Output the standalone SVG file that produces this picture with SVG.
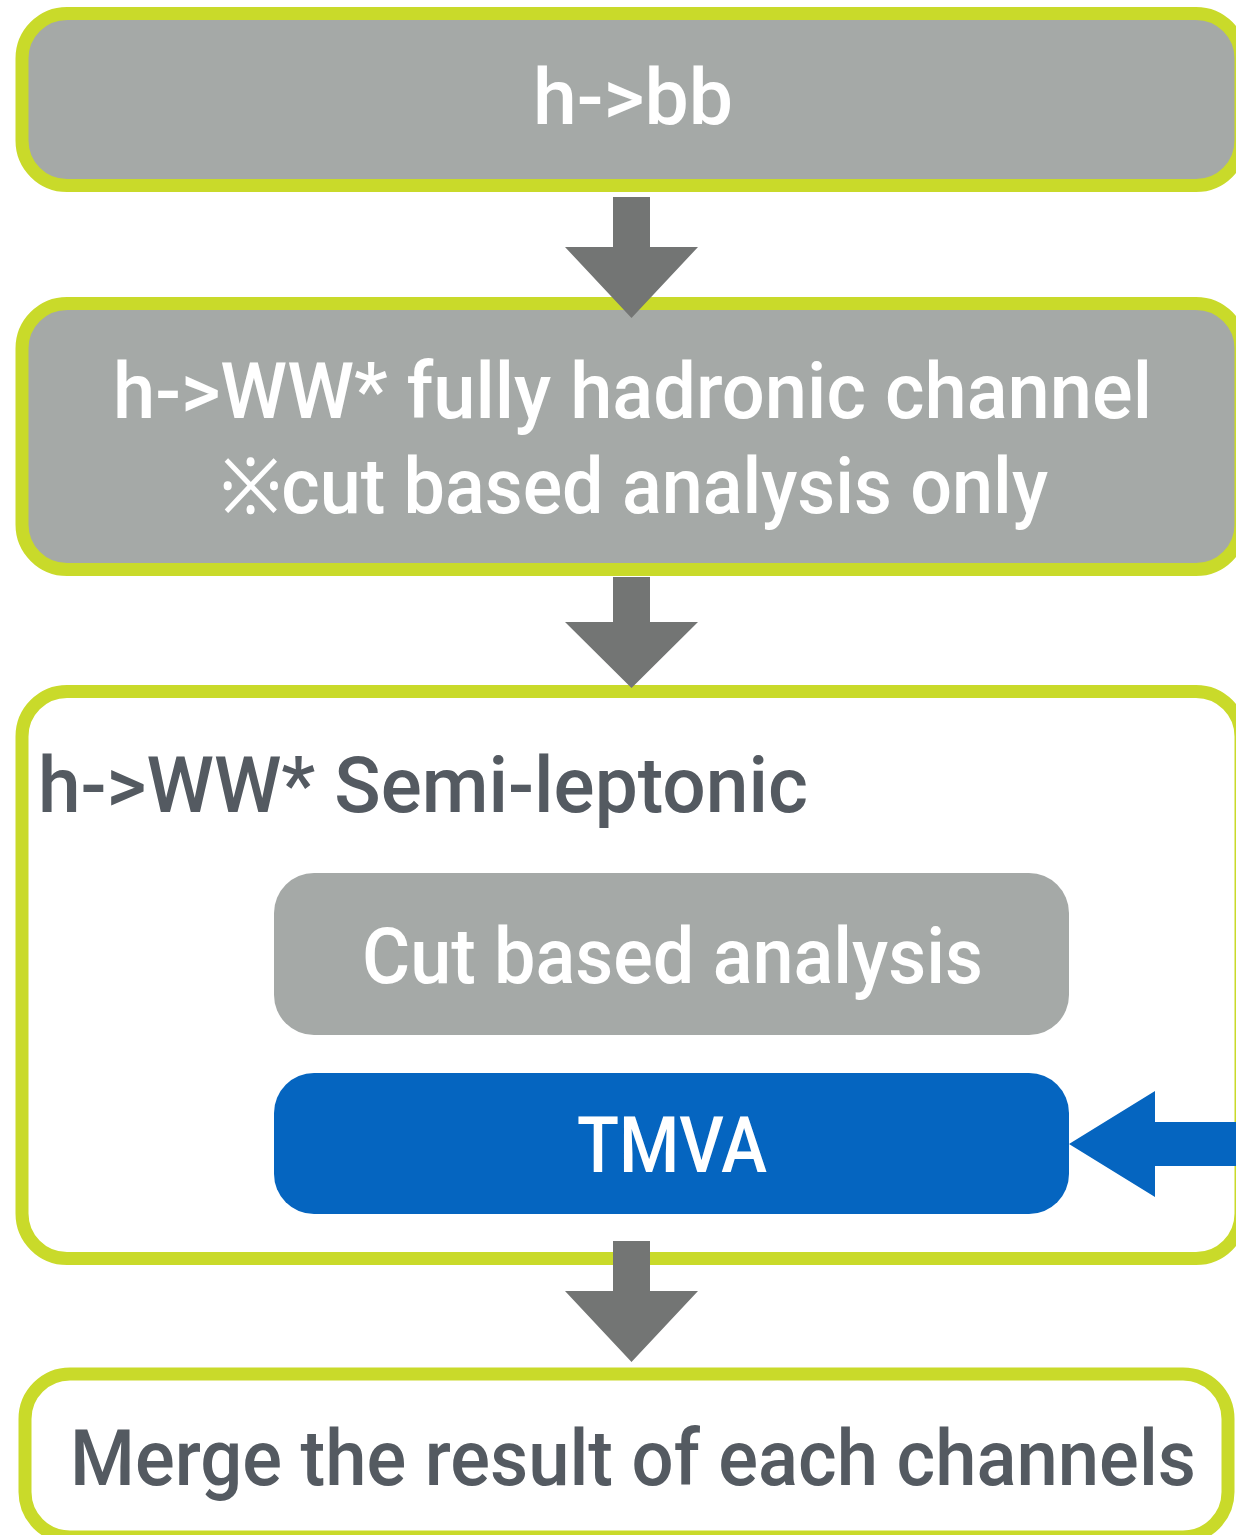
<svg xmlns="http://www.w3.org/2000/svg" width="1236" height="1535" viewBox="0 0 1236 1535">
<style>
.frame{stroke:#c9da2a;stroke-width:13}
.gray{fill:#a5a9a7}
.white{fill:#ffffff}
.t{font-family:Roboto,"Liberation Sans",sans-serif;font-size:77px;font-weight:500;text-anchor:middle}
.tw{fill:#ffffff}
.td{fill:#545a61}
.arrow{fill:#737574}
</style>
<rect width="1236" height="1535" fill="#ffffff"/>
<g id="node-hbb">
<rect class="frame gray" x="22" y="13.5" width="1219" height="172" rx="45"/>
<text class="t tw" x="633" y="124" font-size="68" textLength="200" lengthAdjust="spacingAndGlyphs">h-&gt;bb</text>
</g>
<g id="node-hww-had">
<rect class="frame gray" x="22" y="303.5" width="1219" height="266" rx="45"/>
<text class="t tw" x="632.5" y="418" textLength="1039" lengthAdjust="spacingAndGlyphs">h-&gt;WW* fully hadronic channel</text>
<text class="t tw" x="634" y="513" textLength="828" lengthAdjust="spacingAndGlyphs">※cut based analysis only</text>
</g>
<g id="node-hww-semi">
<rect class="frame white" x="22" y="691.5" width="1219" height="567" rx="45"/>
<text class="t td" x="38" y="812" style="text-anchor:start" textLength="770" lengthAdjust="spacingAndGlyphs">h-&gt;WW* Semi-leptonic</text>
</g>
<g id="node-cut">
<rect class="gray" x="274" y="873" width="795" height="162" rx="40"/>
<text class="t tw" x="672.5" y="983" textLength="621" lengthAdjust="spacingAndGlyphs">Cut based analysis</text>
</g>
<g id="node-tmva">
<rect fill="#0565c0" x="274" y="1073" width="795" height="141" rx="40"/>
<text class="t tw" x="672" y="1172" textLength="190" lengthAdjust="spacingAndGlyphs">TMVA</text>
</g>
<g id="node-merge">
<rect class="frame white" x="25" y="1374" width="1203" height="163" rx="45"/>
<text class="t td" x="633" y="1485" textLength="1126" lengthAdjust="spacingAndGlyphs">Merge the result of each channels</text>
</g>
<g id="connectors">
<path class="arrow" d="M613,197 H650 V247 H698 L631.5,318 L565,247 H613 Z"/>
<path class="arrow" d="M613,577 H650 V622 H698 L631.5,688 L565,622 H613 Z"/>
<path class="arrow" d="M613,1241 H650 V1291 H698 L631.5,1362 L565,1291 H613 Z"/>
<path fill="#0565c0" d="M1069,1144 L1155,1091 V1122 H1240 V1166 H1155 V1197 Z"/>
</g>
</svg>
